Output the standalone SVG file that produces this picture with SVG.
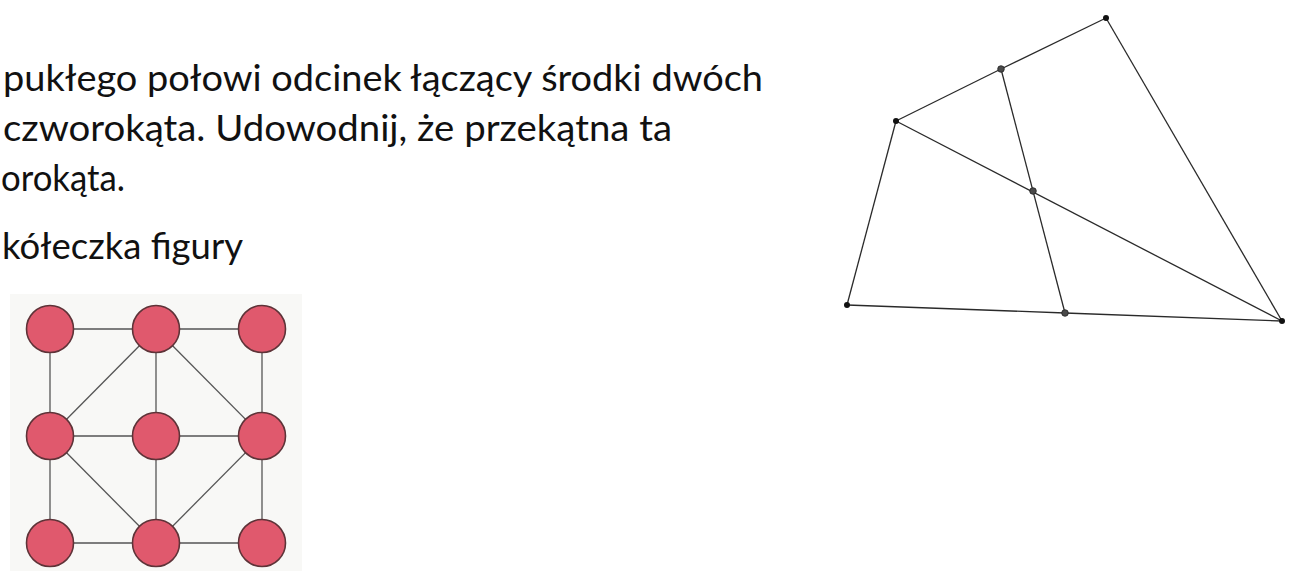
<svg xmlns="http://www.w3.org/2000/svg" width="1299" height="579" viewBox="0 0 1299 579">
  <style>
    .txt { font-family: Lato, "Liberation Sans", sans-serif; font-size: 37px; fill: #111; }
    .gedge { stroke: #555; stroke-width: 1.3; fill: none; }
    .ball { fill: #e0596d; stroke: #5e3338; stroke-width: 1.6; }
    .qedge { stroke: #2a2a2a; stroke-width: 1.3; fill: none; }
    .vtx { fill: #111; }
    .mid { fill: #4a4a4a; stroke: #222; stroke-width: 0.8; }
  </style>
  <rect width="1299" height="579" fill="#ffffff"/>

  <g id="text">
    <text class="txt" x="3" y="91" textLength="760" lengthAdjust="spacingAndGlyphs">pukłego połowi odcinek łączący środki dwóch</text>
    <text class="txt" x="3" y="141" textLength="669" lengthAdjust="spacingAndGlyphs">czworokąta. Udowodnij, że przekątna ta</text>
    <text class="txt" x="1" y="191" textLength="124" lengthAdjust="spacingAndGlyphs">orokąta.</text>
    <text class="txt" x="2" y="259" textLength="241" lengthAdjust="spacingAndGlyphs">kółeczka figury</text>
  </g>

  <g id="figure-circles">
    <rect x="10" y="294" width="292" height="277" fill="#f8f8f6"/>
    <g id="circle-connectors">
      <line class="gedge" x1="50" y1="329" x2="156" y2="329"/>
      <line class="gedge" x1="156" y1="329" x2="262" y2="329"/>
      <line class="gedge" x1="50" y1="436" x2="156" y2="436"/>
      <line class="gedge" x1="156" y1="436" x2="262" y2="436"/>
      <line class="gedge" x1="50" y1="543" x2="156" y2="543"/>
      <line class="gedge" x1="156" y1="543" x2="262" y2="543"/>
      <line class="gedge" x1="50" y1="329" x2="50" y2="436"/>
      <line class="gedge" x1="50" y1="436" x2="50" y2="543"/>
      <line class="gedge" x1="156" y1="329" x2="156" y2="436"/>
      <line class="gedge" x1="156" y1="436" x2="156" y2="543"/>
      <line class="gedge" x1="262" y1="329" x2="262" y2="436"/>
      <line class="gedge" x1="262" y1="436" x2="262" y2="543"/>
      <line class="gedge" x1="156" y1="329" x2="50" y2="436"/>
      <line class="gedge" x1="156" y1="329" x2="262" y2="436"/>
      <line class="gedge" x1="50" y1="436" x2="156" y2="543"/>
      <line class="gedge" x1="262" y1="436" x2="156" y2="543"/>
    </g>
    <g id="c1"><circle class="ball" cx="50" cy="329" r="23.5"/></g>
    <g id="c2"><circle class="ball" cx="156" cy="329" r="23.5"/></g>
    <g id="c3"><circle class="ball" cx="262" cy="329" r="23.5"/></g>
    <g id="c4"><circle class="ball" cx="50" cy="436" r="23.5"/></g>
    <g id="c5"><circle class="ball" cx="156" cy="436" r="23.5"/></g>
    <g id="c6"><circle class="ball" cx="262" cy="436" r="23.5"/></g>
    <g id="c7"><circle class="ball" cx="50" cy="543" r="23.5"/></g>
    <g id="c8"><circle class="ball" cx="156" cy="543" r="23.5"/></g>
    <g id="c9"><circle class="ball" cx="262" cy="543" r="23.5"/></g>
  </g>

  <g id="figure-quadrilateral">
    <g id="quad-connectors">
      <line class="qedge" x1="1106" y1="18" x2="1001" y2="69"/>
      <line class="qedge" x1="1001" y1="69" x2="896" y2="121"/>
      <line class="qedge" x1="896" y1="121" x2="847" y2="305"/>
      <line class="qedge" x1="847" y1="305" x2="1065" y2="313"/>
      <line class="qedge" x1="1065" y1="313" x2="1282" y2="321"/>
      <line class="qedge" x1="1282" y1="321" x2="1106" y2="18"/>
      <line class="qedge" x1="896" y1="121" x2="1282" y2="321"/>
      <line class="qedge" x1="1001" y1="69" x2="1065" y2="313"/>
    </g>
    <g id="p-top"><circle class="vtx" cx="1106" cy="18" r="3"/></g>
    <g id="p-left-top"><circle class="vtx" cx="896" cy="121" r="3"/></g>
    <g id="p-bottom-left"><circle class="vtx" cx="847" cy="305" r="3"/></g>
    <g id="p-bottom-right"><circle class="vtx" cx="1282" cy="321" r="3"/></g>
    <g id="m-top"><circle class="mid" cx="1001" cy="69" r="3.3"/></g>
    <g id="m-center"><circle class="mid" cx="1033" cy="191" r="3.3"/></g>
    <g id="m-bottom"><circle class="mid" cx="1065" cy="313" r="3.3"/></g>
  </g>
</svg>
